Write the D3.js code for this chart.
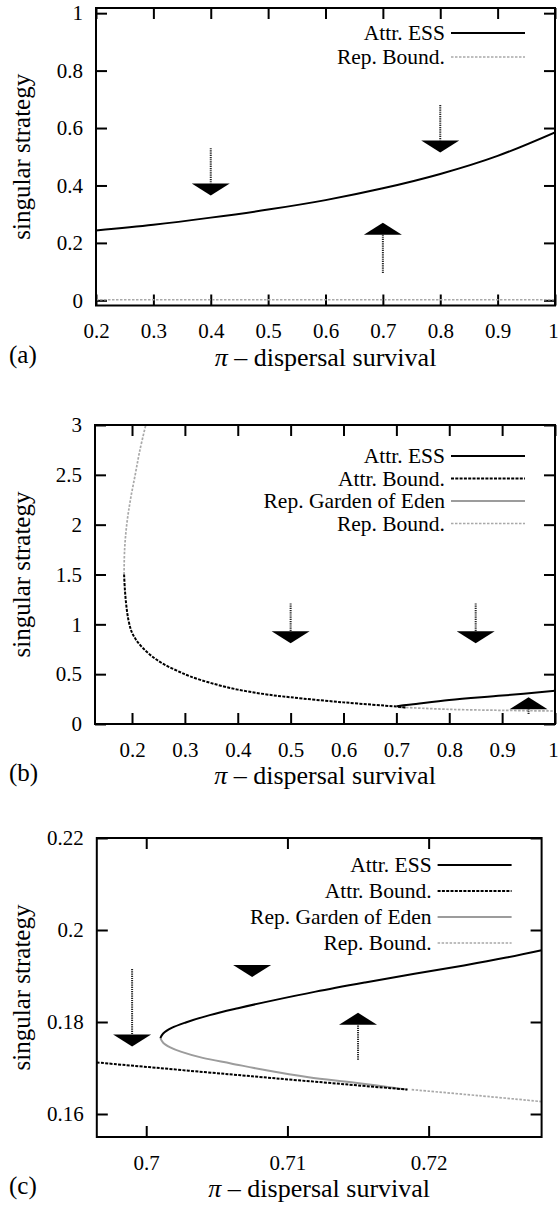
<!DOCTYPE html>
<html>
<head>
<meta charset="utf-8">
<script src="https://cdn.jsdelivr.net/npm/d3@7"></script>
<style>
  body { margin: 0; background: #fff; }
  svg { display: block; }
  svg text { font-family: "Liberation Serif", "DejaVu Serif", "Times New Roman", Times, serif; fill: #000; }
</style>
</head>
<body>
<svg id="fig" width="558" height="1212"></svg>
<script>
// ---- panel (a) ----
const xTicksA = [0.2, 0.3, 0.4, 0.5, 0.6, 0.7, 0.8, 0.9, 1];
const yTicksA = [0, 0.2, 0.4, 0.6, 0.8, 1];
const essPiA = [0.2, 0.3, 0.4, 0.5, 0.6, 0.7, 0.8, 0.9, 1.0];
const essA = [0.243, 0.263, 0.288, 0.316, 0.349, 0.39, 0.44, 0.503, 0.585];
const repBoundPiA = [0.2, 1.0];
const repBoundA = [0.002, 0.002];
const arrowPiA = [0.4, 0.8, 0.7];
const arrowFromA = [0.53, 0.68, 0.095];
const arrowToA = [0.365, 0.515, 0.27];

// ---- panel (b) ----
const xTicksB = [0.2, 0.3, 0.4, 0.5, 0.6, 0.7, 0.8, 0.9, 1];
const yTicksB = [0, 0.5, 1, 1.5, 2, 2.5, 3];
const essPiB = [0.701, 0.702, 0.71, 0.728, 0.8, 0.9, 1.0];
const essB = [0.1765, 0.179, 0.186, 0.1956, 0.24, 0.285, 0.333];
const attrBoundPiB = [0.185, 0.1865, 0.189, 0.193, 0.199, 0.207, 0.221, 0.24, 0.26, 0.285, 0.31, 0.35, 0.4, 0.45, 0.5, 0.6, 0.7, 0.7185];
const attrBoundB = [1.5, 1.35, 1.2, 1.05, 0.93, 0.85, 0.76, 0.67, 0.6, 0.535, 0.478, 0.41, 0.345, 0.3, 0.268, 0.217, 0.175, 0.1653];
const gardenPiB = [0.701, 0.705, 0.71, 0.7185];
const gardenB = [0.1765, 0.1715, 0.1685, 0.1653];
const repBoundUpPiB = [0.185, 0.186, 0.19, 0.197, 0.206, 0.215, 0.226];
const repBoundUpB = [1.5, 1.75, 2.0, 2.25, 2.5, 2.75, 3.0];
const repBoundLowPiB = [0.7185, 0.8, 0.9, 1.0];
const repBoundLowB = [0.1653, 0.147, 0.137, 0.13];
const arrowPiB = [0.5, 0.85, 0.95];
const arrowFromB = [1.21, 1.21, 0.1];
const arrowToB = [0.81, 0.81, 0.268];

// ---- panel (c) ----
const xTicksC = [0.7, 0.71, 0.72];
const yTicksC = [0.16, 0.18, 0.2, 0.22];
const essPiC = [0.7010, 0.7012, 0.7018, 0.7028, 0.7045, 0.7065, 0.709, 0.712, 0.7155, 0.719, 0.7225, 0.7255, 0.728];
const essC = [0.1765, 0.1775, 0.1787, 0.1799, 0.1815, 0.183, 0.1847, 0.1866, 0.1886, 0.1905, 0.1923, 0.194, 0.1956];
const gardenPiC = [0.7010, 0.7012, 0.7017, 0.7025, 0.704, 0.706, 0.7085, 0.7115, 0.7148, 0.7185];
const gardenC = [0.1765, 0.1755, 0.1745, 0.1735, 0.1722, 0.171, 0.1695, 0.168, 0.1668, 0.1653];
const attrBoundPiC = [0.6965, 0.7075, 0.7185];
const attrBoundC = [0.1712, 0.1682, 0.1653];
const repBoundPiC = [0.7188, 0.7235, 0.728];
const repBoundC = [0.1653, 0.164, 0.1627];
const arrowPiC = [0.699, 0.7075, 0.715];
const arrowFromC = [0.1915, 0.1921, 0.1718];
const arrowToC = [0.1747, 0.1898, 0.182];

const legendAll = ["Attr. ESS", "Attr. Bound.", "Rep. Garden of Eden", "Rep. Bound."];
const legendA = ["Attr. ESS", "Rep. Bound."];

const styles = {
  "Attr. ESS": {stroke: "#000", width: 2, dash: null},
  "Attr. Bound.": {stroke: "#000", width: 2, dash: "3,1.3"},
  "Rep. Garden of Eden": {stroke: "#9c9c9c", width: 2, dash: null},
  "Rep. Bound.": {stroke: "#a9a9a9", width: 1.7, dash: "2.5,1.5"}
};

const svg = d3.select("#fig");
const zip = (a, b) => a.map((v, i) => [v, b[i]]);

function panel(p) {
  const x = d3.scaleLinear().domain(p.xDomain).range([p.left, p.right]);
  const y = d3.scaleLinear().domain(p.yDomain).range([p.bottom, p.top]);
  const g = svg.append("g");
  const tick = 11;

  g.append("clipPath").attr("id", "clip-" + p.name)
    .append("rect")
    .attr("x", p.left).attr("y", p.top)
    .attr("width", p.right - p.left).attr("height", p.bottom - p.top);

  // axes, ticks pointing inward on all four sides
  const axes = [
    [d3.axisBottom(x).tickValues(p.xTicks).tickSize(-tick).tickPadding(18).tickFormat(String), `translate(0,${p.bottom})`],
    [d3.axisTop(x).tickValues(p.xTicks).tickSize(-tick).tickFormat(""), `translate(0,${p.top})`],
    [d3.axisLeft(y).tickValues(p.yTicks).tickSize(-tick).tickPadding(13).tickFormat(String), `translate(${p.left},0)`],
    [d3.axisRight(y).tickValues(p.yTicks).tickSize(-tick).tickFormat(""), `translate(${p.right},0)`]
  ];
  axes.forEach(([ax, tr]) => {
    const a = g.append("g").attr("transform", tr).call(ax)
      .attr("font-family", null).attr("font-size", null);
    a.select(".domain").remove();
    a.selectAll("line").attr("stroke", "#000").attr("stroke-width", 2);
    a.selectAll("text").attr("fill", "#000").style("font-size", "21px");
  });
  // keep the right-most label inside the page edge
  g.selectAll(".tick text").filter(function () {
    return this.getBBox && x.range()[1] > 550 && this.textContent === "1" &&
      this.parentNode.getAttribute("transform").startsWith("translate(" + x(1));
  }).attr("dx", -2);

  const line = d3.line().x(d => x(d[0])).y(d => y(d[1])).curve(d3.curveCatmullRom);
  const plot = g.append("g").attr("clip-path", `url(#clip-${p.name})`);
  p.series.forEach(s => {
    const st = styles[s.key];
    plot.append("path")
      .datum(zip(s.pi, s.val))
      .attr("d", line)
      .attr("fill", "none")
      .attr("stroke", st.stroke)
      .attr("stroke-width", st.width)
      .attr("stroke-dasharray", st.dash);
  });

  // direction arrows: dotted stem + filled head
  const headLen = 12, headW = 38;
  p.arrows.pi.forEach((pi, i) => {
    const cx = x(pi), y0 = y(p.arrows.from[i]), y1 = y(p.arrows.to[i]);
    const dir = y1 > y0 ? 1 : -1;
    const base = y1 - dir * headLen;
    if (Math.abs(base - y0) > 1) {
      plot.append("line")
        .attr("x1", cx).attr("x2", cx).attr("y1", y0).attr("y2", base)
        .attr("stroke", "#222").attr("stroke-width", 2)
        .attr("stroke-dasharray", "1.2,1");
    }
    plot.append("path")
      .attr("d", `M${cx - headW / 2},${base}L${cx + headW / 2},${base}L${cx},${y1}Z`)
      .attr("fill", "#000");
  });

  // border
  g.append("rect")
    .attr("x", p.left).attr("y", p.top)
    .attr("width", p.right - p.left).attr("height", p.bottom - p.top)
    .attr("fill", "none").attr("stroke", "#000").attr("stroke-width", 2);

  // legend
  const lg = g.append("g");
  p.legend.forEach((name, i) => {
    const ly = p.top + p.legendTop + i * p.legendStep;
    const st = styles[name];
    lg.append("text")
      .attr("x", p.right - 110).attr("y", ly)
      .attr("dy", "0.33em")
      .attr("text-anchor", "end")
      .style("font-size", "21.5px")
      .text(name);
    lg.append("line")
      .attr("x1", p.right - 104).attr("x2", p.right - 30)
      .attr("y1", ly).attr("y2", ly)
      .attr("stroke", st.stroke).attr("stroke-width", st.width)
      .attr("stroke-dasharray", st.dash);
  });

  // axis titles
  g.append("text")
    .attr("transform", `translate(30,${(p.top + p.bottom) / 2}) rotate(-90)`)
    .attr("text-anchor", "middle")
    .style("font-size", "25px")
    .text("singular strategy");

  const xt = g.append("text")
    .attr("x", (p.left + p.right) / 2).attr("y", p.bottom + 60)
    .attr("text-anchor", "middle")
    .style("font-size", "26px");
  xt.append("tspan").style("font-style", "italic").text("π");
  xt.append("tspan").text(" – dispersal survival");

  g.append("text")
    .attr("x", 9).attr("y", p.bottom + 57)
    .style("font-size", "25px")
    .text(p.label);
}

panel({
  name: "a", label: "(a)",
  left: 96, right: 555, top: 8, bottom: 305.5,
  xDomain: [0.2, 1], yDomain: [-0.018, 1.018],
  xTicks: xTicksA, yTicks: yTicksA,
  legend: legendA, legendTop: 25, legendStep: 24,
  series: [
    {key: "Rep. Bound.", pi: repBoundPiA, val: repBoundA},
    {key: "Attr. ESS", pi: essPiA, val: essA}
  ],
  arrows: {pi: arrowPiA, from: arrowFromA, to: arrowToA}
});

panel({
  name: "b", label: "(b)",
  left: 95, right: 555, top: 425, bottom: 724,
  xDomain: [0.13, 1], yDomain: [0, 3],
  xTicks: xTicksB, yTicks: yTicksB,
  legend: legendAll, legendTop: 31, legendStep: 22.5,
  series: [
    {key: "Rep. Bound.", pi: repBoundUpPiB, val: repBoundUpB},
    {key: "Rep. Bound.", pi: repBoundLowPiB, val: repBoundLowB},
    {key: "Rep. Garden of Eden", pi: gardenPiB, val: gardenB},
    {key: "Attr. Bound.", pi: attrBoundPiB, val: attrBoundB},
    {key: "Attr. ESS", pi: essPiB, val: essB}
  ],
  arrows: {pi: arrowPiB, from: arrowFromB, to: arrowToB}
});

panel({
  name: "c", label: "(c)",
  left: 96.8, right: 541.6, top: 838, bottom: 1137,
  xDomain: [0.6965, 0.728], yDomain: [0.155, 0.22],
  xTicks: xTicksC, yTicks: yTicksC,
  legend: legendAll, legendTop: 27, legendStep: 26,
  series: [
    {key: "Rep. Bound.", pi: repBoundPiC, val: repBoundC},
    {key: "Rep. Garden of Eden", pi: gardenPiC, val: gardenC},
    {key: "Attr. Bound.", pi: attrBoundPiC, val: attrBoundC},
    {key: "Attr. ESS", pi: essPiC, val: essC}
  ],
  arrows: {pi: arrowPiC, from: arrowFromC, to: arrowToC}
});
</script>
</body>
</html>
